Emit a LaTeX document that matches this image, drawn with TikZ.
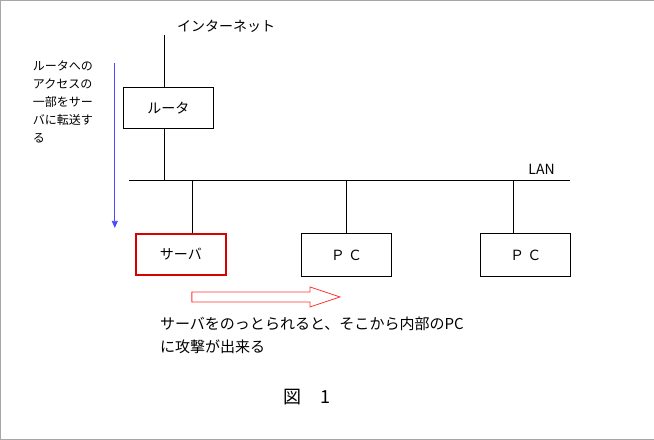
\documentclass[tikz,border=0pt]{standalone}
\usepackage{fontspec}
\setmainfont{Noto Sans CJK JP}
\usetikzlibrary{arrows.meta}

\begin{document}
\begin{tikzpicture}[x=1pt,y=-1pt,
  box/.style={draw,line width=1pt,minimum width=90pt,inner sep=0pt,anchor=north west,font=\fontsize{14}{14}\selectfont},
  lbl/.style={inner sep=0pt,anchor=west,font=\fontsize{14}{14}\selectfont}]
  % frame
  \draw [gray!70] (0.5,0.5) rectangle (653.5,439.5);
  % equipment
  \node [box,minimum height=41pt] (rt) at (123,87) {ルータ};
  \node [box,minimum height=41pt,draw=red!85!black,line width=2pt] (sv) at (135,233) {サーバ};
  \node [box,minimum height=43pt] (pc1) at (301,233) {Ｐ\ Ｃ};
  \node [box,minimum height=43pt] (pc2) at (480,233) {Ｐ\ Ｃ};
  \coordinate (net) at (165,35);
  \coordinate (lanl) at (129,181);
  \coordinate (lanr) at (570,181);
  \node [lbl] (inet) at (177,27) {インターネット};
  \node [lbl] (lan) at (528,170) {LAN};
  % lines
  \draw [line width=1pt] (net) -- (rt.north -| net);
  \draw [line width=1pt] (rt.south -| net) -- (lanl -| net);
  \draw [line width=1.2pt] (lanl) -- (lanr);
  \draw [line width=1pt] (193,181) -- (sv.north -| 193,0);
  \draw [line width=1pt] (346,181) -- (pc1.north -| 346,0);
  \draw [line width=1pt] (513,181) -- (pc2.north -| 513,0);
  % blue arrow with note
  \coordinate (bt) at (115,63);
  \coordinate (bb) at (115,228);
  \draw [blue!70,line width=0.8pt,-{Triangle[width=6pt,length=7pt]}] (bt) -- (bb);
  \node [inner sep=0pt,anchor=north west,align=left,font=\fontsize{12}{18}\selectfont] (note) at (33,61)
    {ルータへの\\アクセスの\\一部をサー\\バに転送す\\る};
  % hollow red arrow
  \draw [red!80,line width=0.8pt,fill=white] (192,292) -- (310,292) -- (310,287) -- (340,297)
    -- (310,307) -- (310,302) -- (192,302) -- cycle;
  \node [inner sep=0pt,anchor=north west,align=left,font=\fontsize{15}{23}\selectfont] (msg) at (160,317)
    {サーバをのっとられると、そこから内部のPC\\に攻撃が出来る};
  \node [inner sep=0pt,font=\fontsize{18}{18}\selectfont] (fig) at (307,397) {図\quad 1};
\end{tikzpicture}
\end{document}
